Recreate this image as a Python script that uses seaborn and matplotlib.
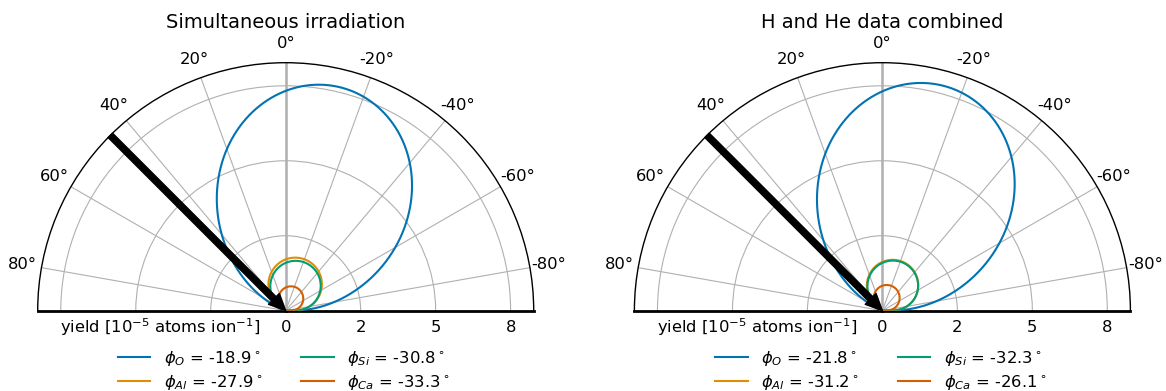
import numpy as np
import matplotlib
matplotlib.use("Agg")
import matplotlib.pyplot as plt
from matplotlib.ticker import FormatStrFormatter
import seaborn as sns

# ---- data ---------------------------------------------------------------
elements = ["O", "Al", "Si", "Ca"]
panel_titles = ["Simultaneous irradiation", "H and He data combined"]

# fitted tilt angles phi (deg) for each element
phi_sim = [-18.9, -27.9, -30.8, -33.3]
phi_comb = [-21.8, -31.2, -32.3, -26.1]

# fitted amplitudes (1e-5 atoms/ion)
amp_sim = [7.8, 1.87, 1.78, 0.88]
amp_comb = [7.95, 1.82, 1.80, 0.90]

# exponents of the surface-normal factor cos(theta) and the tilted factor cos(theta - phi)
exp_normal = [0.43, 0.28, 0.28, 0.28]
exp_tilt = [1.12, 0.72, 0.72, 0.72]

incidence_deg = 45.0
r_ticks = [0, 2.5, 5, 7.5]
theta_ticks = list(range(-80, 81, 20))
r_max = 8.27

# ---- style --------------------------------------------------------------
plt.rcParams["font.family"] = ["DejaVu Sans"]
plt.rcParams["font.size"] = 11.8
plt.rcParams["axes.unicode_minus"] = False
colors = sns.color_palette("colorblind", 4)


def lobe(theta, amp, a, b, phi_deg):
    """Angular distribution: amp * cos(theta)^a * cos(theta - phi)^b."""
    phi = np.deg2rad(phi_deg)
    c0 = np.clip(np.cos(theta), 0.0, None)
    c1 = np.clip(np.cos(theta - phi), 0.0, None)
    return amp * c0 ** a * c1 ** b


theta = np.deg2rad(np.linspace(-90.0, 90.0, 1441))

W, H = 1166, 391
fig = plt.figure(figsize=(W / 100, H / 100), dpi=100)

# half-disc geometry in pixels (the polar box is square, the half disc sits in its upper half)
R_px = 248.0
centers_x = [285.7, 882.4]
center_y = 310.7            # from the top edge


def fy(p):
    """figure fraction from a pixel row counted from the top"""
    return (H - p) / H


panels = [(phi_sim, amp_sim), (phi_comb, amp_comb)]

for k, (phis, amps) in enumerate(panels):
    side = 2 * R_px
    left = (centers_x[k] - R_px) / W
    # square box centred half a radius above the disc centre
    box_bottom_px = center_y - R_px / 2 + side / 2
    ax = fig.add_axes([left, (H - box_bottom_px) / H, side / W, side / H],
                      projection="polar")
    ax.set_theta_zero_location("N")
    ax.set_theta_direction(1)
    ax.set_thetamin(-90)
    ax.set_thetamax(90)

    # emphasised normal direction
    ax.plot([0, 0], [0, r_max], color="#b0b0b0", lw=1.8, zorder=1.5)

    for i, el in enumerate(elements):
        r = lobe(theta, amps[i], exp_normal[i], exp_tilt[i], phis[i])
        sns.lineplot(x=theta, y=r, ax=ax, color=colors[i], lw=1.5,
                     sort=False, estimator=None,
                     label=rf"$\phi_{{{el}}}$ = {phis[i]}$^\circ$", zorder=3)

    ax.annotate("", xy=(0.0, 0.0), xytext=(np.deg2rad(incidence_deg), r_max),
                arrowprops=dict(facecolor="black", edgecolor="black",
                                width=4.5, headwidth=11, headlength=12, shrink=0.0),
                annotation_clip=False, zorder=5)

    ax.set_ylim(0, r_max)
    ax.set_rticks(r_ticks)
    ax.yaxis.set_major_formatter(FormatStrFormatter("%.0f"))
    ax.set_thetagrids(theta_ticks, labels=[f"{t}\N{DEGREE SIGN}" for t in theta_ticks])
    ax.grid(True, color="#b0b0b0", lw=0.8)
    ax.set_xlabel("")
    ax.set_ylabel("")

    for s in ("start", "end"):
        ax.spines[s].set_linewidth(2.0)
    ax.spines["polar"].set_linewidth(1.0)

    fig.text((centers_x[k] - 25.5) / W, fy(333.5),
             r"yield [10$^{-5}$ atoms ion$^{-1}$]", ha="right", va="baseline")

    fig.text(centers_x[k] / W, fy(28.5), panel_titles[k], fontsize=14,
             ha="center", va="baseline")

    ax.legend(loc="upper center", bbox_to_anchor=((centers_x[k] - 2) / W, fy(334)),
              bbox_transform=fig.transFigure, ncol=2, frameon=False,
              columnspacing=2.4, labelspacing=0.3)

fig.savefig("out.png", dpi=100)
